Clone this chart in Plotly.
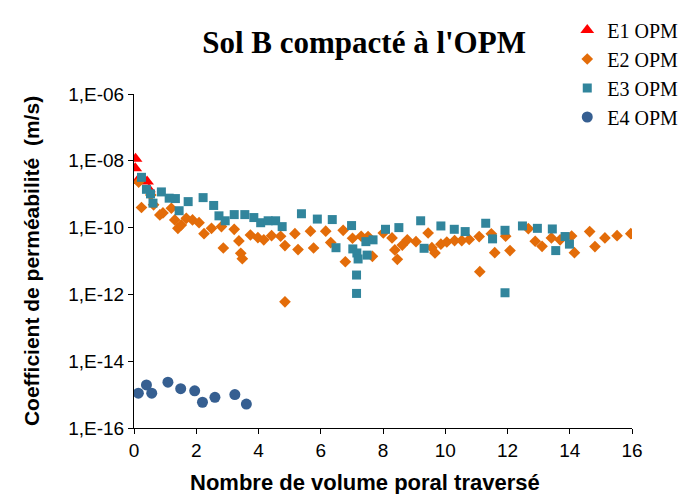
import plotly.graph_objects as go

# Série E1 OPM
e1_x = [0.05, 0.04, 0.15, 0.42, 0.48]
e1_k = [1.15e-8, 6.0e-9, 2.8e-9, 2.4e-9, 1.4e-9]

# Série E2 OPM
e2_x = [0.15, 0.24, 0.54, 0.63, 0.83, 0.93, 1.20, 1.31, 1.41, 1.52,
        1.68, 1.88, 2.09, 2.25, 2.49, 2.81, 2.87, 3.22, 3.37, 3.43,
        3.48, 3.74, 3.98, 4.17, 4.42, 4.71, 4.85, 4.85, 5.17, 5.27,
        5.67, 5.77, 6.16, 6.32, 6.72, 6.79, 7.02, 7.30, 7.52, 7.66,
        8.01, 8.29, 8.38, 8.46, 8.62, 8.78, 9.06, 9.45, 9.57, 9.67,
        9.86, 10.05, 10.30, 10.53, 10.77, 11.09, 11.11, 11.48, 11.59, 11.94,
        12.08, 12.67, 12.89, 13.11, 13.41, 13.69, 14.06, 14.15, 14.64, 14.81,
        15.13, 15.52, 15.96]
e2_k = [2.3e-9, 4.0e-10, 9.5e-10, 4.8e-10, 2.4e-10, 2.75e-10, 3.8e-10, 1.7e-10, 9.5e-11, 1.2e-10,
        1.9e-10, 1.7e-10, 1.4e-10, 6.6e-11, 9.5e-11, 1.07e-10, 2.45e-11, 8.9e-11, 4.0e-11, 1.7e-11,
        1.17e-11, 6.0e-11, 5.0e-11, 4.3e-11, 5.75e-11, 5.5e-11, 2.9e-11, 6.0e-13, 6.6e-11, 2.2e-11,
        7.8e-11, 2.45e-11, 7.8e-11, 3.55e-11, 8.3e-11, 9.5e-12, 4.8e-11, 5.5e-11, 5.4e-11, 1.38e-11,
        6.9e-11, 4.9e-11, 2.15e-11, 1.12e-11, 3.0e-11, 4.3e-11, 3.8e-11, 6.9e-11, 2.5e-11, 1.74e-11,
        3.2e-11, 3.7e-11, 4.1e-11, 4.1e-11, 4.4e-11, 5.4e-11, 4.8e-12, 6.5e-11, 1.78e-11, 5.5e-11,
        2.05e-11, 9.3e-11, 3.9e-11, 2.75e-11, 4.9e-11, 4.3e-11, 5.6e-11, 1.78e-11, 7.6e-11, 2.7e-11,
        4.9e-11, 5.75e-11, 6.6e-11]

# Série E3 OPM
e3_x = [0.24, 0.40, 0.53, 0.61, 0.88, 1.13, 1.33, 1.45, 1.74, 2.22,
        2.56, 2.73, 2.93, 3.22, 3.56, 3.85, 4.07, 4.31, 4.55, 4.76,
        5.38, 5.89, 6.37, 6.49, 6.99, 7.03, 7.16, 7.20, 7.15, 7.15,
        7.45, 7.49, 7.68, 8.08, 8.51, 9.21, 9.32, 9.86, 10.29, 10.64,
        11.30, 11.52, 11.92, 11.92, 12.48, 12.96, 13.44, 13.55, 13.85, 13.99]
e3_k = [3.2e-9, 1.4e-9, 1.02e-9, 5.4e-10, 1.17e-9, 7.6e-10, 7.4e-10, 3.2e-10, 6.0e-10, 7.9e-10,
        4.6e-10, 2.25e-10, 1.6e-10, 2.45e-10, 2.45e-10, 2.0e-10, 1.4e-10, 1.6e-10, 1.6e-10, 1.07e-10,
        2.6e-10, 1.8e-10, 1.74e-10, 2.5e-11, 1.15e-10, 2.3e-11, 1.74e-11, 1.15e-11, 3.8e-12, 1.07e-12,
        3.8e-11, 1.5e-11, 4.3e-11, 8.9e-11, 1.0e-10, 1.6e-10, 2.4e-11, 1.12e-10, 8.9e-11, 7.6e-11,
        1.35e-10, 4.6e-11, 8.3e-11, 1.12e-12, 1.12e-10, 9.5e-11, 9.1e-11, 2.05e-11, 5.4e-11, 3.2e-11]

# Série E4 OPM
e4_x = [0.14, 0.40, 0.57, 1.09, 1.50, 1.95, 2.20, 2.60, 3.24, 3.61]
e4_k = [1.1e-15, 1.95e-15, 1.1e-15, 2.35e-15, 1.5e-15, 1.3e-15, 5.9e-16, 8.3e-16, 1.0e-15, 5.2e-16]

x_ticks = [0, 2, 4, 6, 8, 10, 12, 14, 16]
y_ticks = [1e-16, 1e-14, 1e-12, 1e-10, 1e-8, 1e-6]
y_tick_labels = ["1,E-16", "1,E-14", "1,E-12", "1,E-10", "1,E-08", "1,E-06"]

fig = go.Figure()
fig.add_trace(go.Scatter(x=e1_x, y=e1_k, mode="markers", name="E1 OPM",
                         marker=dict(symbol="triangle-up", size=12, color="#FF0000")))
fig.add_trace(go.Scatter(x=e2_x, y=e2_k, mode="markers", name="E2 OPM",
                         marker=dict(symbol="diamond", size=9, color="#E36C09")))
fig.add_trace(go.Scatter(x=e3_x, y=e3_k, mode="markers", name="E3 OPM",
                         marker=dict(symbol="square", size=9, color="#31859C")))
fig.add_trace(go.Scatter(x=e4_x, y=e4_k, mode="markers", name="E4 OPM",
                         marker=dict(symbol="circle", size=11, color="#365F91")))

fig.update_layout(
    width=678, height=494,
    margin=dict(l=134, r=46, t=94, b=66, autoexpand=False),
    paper_bgcolor="white", plot_bgcolor="white",
    title=dict(text="<b>Sol B compacté à l'OPM</b>",
               font=dict(family="Liberation Serif", size=31, color="black"),
               x=0.462, xanchor="center", xref="paper", y=0.915, yanchor="middle"),
    showlegend=True,
    legend=dict(x=0.870, xanchor="left", y=1.25, yanchor="top",
                font=dict(family="Liberation Serif", size=20, color="black"),
                traceorder="normal", itemwidth=30, tracegroupgap=0,
                bgcolor="rgba(0,0,0,0)"),
    font=dict(family="Liberation Sans", color="black"),
    annotations=[dict(text="<b>Nombre de volume poral traversé</b>",
                      xref="paper", yref="paper", x=0.464, y=-0.162,
                      xanchor="center", yanchor="middle", showarrow=False,
                      font=dict(family="Liberation Sans", size=22, color="black"))],
)

fig.update_xaxes(range=[0, 16], tickvals=x_ticks, ticks="outside", ticklen=5,
                 tickcolor="black", showline=True, linecolor="black", linewidth=1,
                 showgrid=False, zeroline=False, tickfont=dict(size=19))
fig.update_yaxes(type="log", range=[-16, -6], tickvals=y_ticks, ticktext=y_tick_labels,
                 ticks="outside", ticklen=5, tickcolor="black", showline=True,
                 linecolor="black", linewidth=1, showgrid=False, zeroline=False,
                 tickfont=dict(size=19),
                 title=dict(text="<b>Coefficient de perméabilité  (m/s)</b>",
                            font=dict(size=21), standoff=22))

fig.write_html("out.html")
